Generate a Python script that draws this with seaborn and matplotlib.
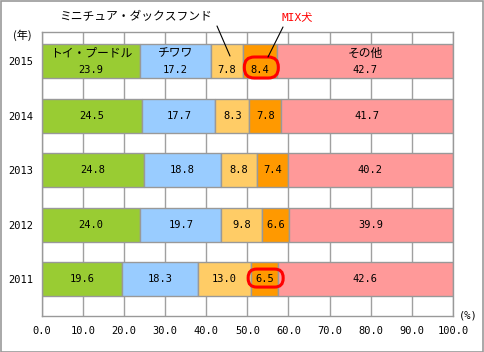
import matplotlib
matplotlib.use("Agg")
import matplotlib.pyplot as plt
from matplotlib.patches import FancyBboxPatch
import seaborn as sns
import numpy as np
import pandas as pd

years = ["2015", "2014", "2013", "2012", "2011"]
series_names = ["トイ・プードル", "チワワ", "ミニチュア・ダックスフンド", "MIX犬", "その他"]
toy_poodle = [23.9, 24.5, 24.8, 24.0, 19.6]
chihuahua = [17.2, 17.7, 18.8, 19.7, 18.3]
mini_dachs = [7.8, 8.3, 8.8, 9.8, 13.0]
mix = [8.4, 7.8, 7.4, 6.6, 6.5]
others = [42.7, 41.7, 40.2, 39.9, 42.6]
colors = ["#99CC33", "#99CCFF", "#FFCC66", "#FF9900", "#FF9999"]
xticks = [0, 10, 20, 30, 40, 50, 60, 70, 80, 90, 100]

sns.set_theme(style="white")
plt.rcParams["font.family"] = ["Noto Sans CJK JP", "DejaVu Sans"]
plt.rcParams["text.color"] = "black"
plt.rcParams["xtick.color"] = "black"
plt.rcParams["ytick.color"] = "black"

NUM = ["DejaVu Sans Mono", "Noto Sans CJK JP"]
NFS = 7.5

W, H = 484, 352
fig = plt.figure(figsize=(W / 100, H / 100), dpi=100)
ax = fig.add_axes([41.7 / W, 1 - 316 / H, (453 - 41.7) / W, (316 - 31.7) / H])

# vertical grid
for xv in xticks:
    ax.axvline(xv, color="#A0A0A0", lw=1, zorder=0)

all_series = [toy_poodle, chihuahua, mini_dachs, mix, others]
left = np.zeros(len(years))
for vals, col in zip(all_series, colors):
    df = pd.DataFrame({"year": years, "val": vals})
    sns.barplot(data=df, x="val", y="year", orient="h", order=years,
                color=col, saturation=1, width=0.625, left=left,
                edgecolor="#999999", linewidth=1, ax=ax, zorder=2)
    left = left + np.array(vals)

ax.set_xlim(0, 100)
ax.set_ylim(4.68, -0.544)
ax.set_xticks(xticks)
ax.set_xticklabels([f"{v:.1f}" for v in xticks])
ax.set_xlabel("")
ax.set_ylabel("")
ax.tick_params(axis="x", length=0, pad=7)
ax.tick_params(axis="y", length=0, pad=6)
for lab in ax.get_xticklabels() + ax.get_yticklabels():
    lab.set_family(NUM)
    lab.set_fontsize(NFS)
for sp in ax.spines.values():
    sp.set_color("#999999")
    sp.set_linewidth(1)

XPX = (453 - 41.7) / 100
YPX = 54.4

# value labels
left = np.zeros(len(years))
for si, vals in enumerate(all_series):
    for yi, v in enumerate(vals):
        cx = left[yi] + v / 2
        if yi == 0 and si in (0, 1, 4):
            ax.text(cx, yi - 0.15, series_names[si], ha="center", va="center",
                    fontsize=8.5, zorder=5)
            ax.text(cx, yi + 0.16, f"{v:.1f}", ha="center", va="center",
                    fontsize=NFS, family=NUM, zorder=5)
        elif yi == 0:
            ax.text(cx, yi + 0.16, f"{v:.1f}", ha="center", va="center",
                    fontsize=NFS, family=NUM, zorder=5)
        else:
            ax.text(cx, yi, f"{v:.1f}", ha="center", va="center",
                    fontsize=NFS, family=NUM, zorder=5)
    left = left + np.array(vals)

# red rounded highlights around MIX values (2015, 2011)
def highlight(yi, w_px, h_px, dy):
    x0 = sum(s[yi] for s in all_series[:3])
    cx = x0 + mix[yi] / 2 + 0.3
    cy = yi + dy
    w = w_px / XPX
    h = h_px / YPX
    r_px = min(h_px, w_px) / 2 - 0.5
    p = FancyBboxPatch((cx - w / 2, cy - h / 2), w, h,
                       boxstyle=f"round,pad=0,rounding_size={r_px / XPX}",
                       mutation_aspect=XPX / YPX,
                       fc="none", ec="#FF0000", lw=2.2, zorder=6,
                       clip_on=False)
    ax.add_patch(p)

highlight(0, 34, 21, 0.114)
highlight(4, 35, 18, -0.017)

# callouts
def px2data(px, py, ycenter_px=61.3):
    return ((px - 41.7) / XPX, (py - ycenter_px) / YPX)

x1, y1 = px2data(217, 26)
x2, y2 = px2data(230, 56)
ax.plot([x1, x2], [y1, y2], color="black", lw=0.8, clip_on=False, zorder=6)
tx, ty = px2data(136, 17)
ax.text(tx, ty, series_names[2], ha="center", va="center", fontsize=8.5,
        clip_on=False)

x1, y1 = px2data(283, 27)
x2, y2 = px2data(268, 57)
ax.plot([x1, x2], [y1, y2], color="black", lw=0.8, clip_on=False, zorder=6)
tx, ty = px2data(297, 17)
ax.text(tx, ty, series_names[3], ha="center", va="center", fontsize=8,
        color="#FF0000", family=NUM, clip_on=False)

fig.text(22 / W, 1 - 35 / H, "(年)", ha="center", va="center", fontsize=8)
fig.text(468 / W, 1 - 315 / H, "(%)", ha="center", va="center", fontsize=NFS,
         family=NUM)

fig.patches.append(plt.Rectangle((0.5 / W, 0.5 / H), 1 - 1.5 / W, 1 - 1.5 / H,
                                 transform=fig.transFigure, fill=False,
                                 ec="#999999", lw=1.2))

fig.savefig("out.png", dpi=100)
